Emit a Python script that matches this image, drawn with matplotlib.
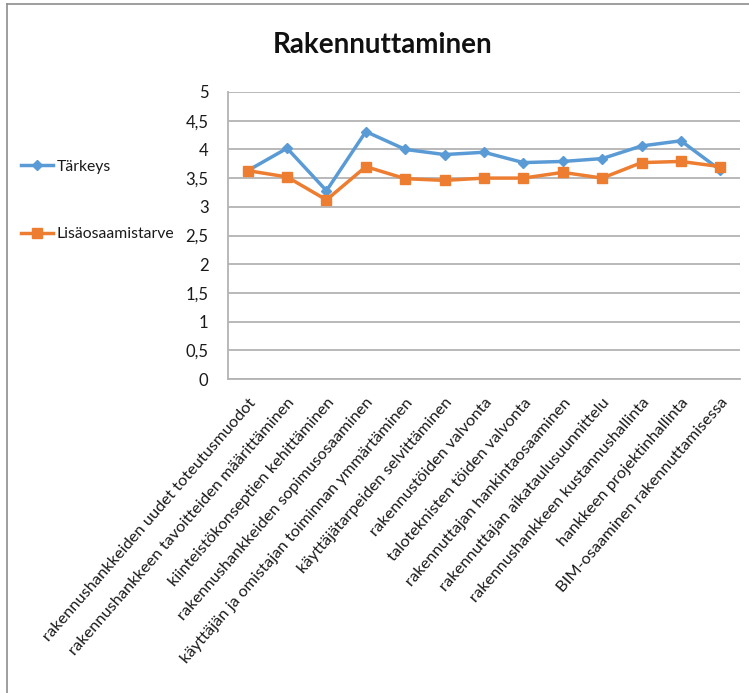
import matplotlib
matplotlib.use("Agg")
import matplotlib.pyplot as plt
from matplotlib.lines import Line2D
from matplotlib.ticker import FuncFormatter

plt.rcParams['font.family'] = ['Lato', 'DejaVu Sans']

categories = [
    "rakennushankkeiden uudet toteutusmuodot",
    "rakennushankkeen tavoitteiden määrittäminen",
    "kiinteistökonseptien kehittäminen",
    "rakennushankkeiden sopimusosaaminen",
    "käyttäjän ja omistajan toiminnan ymmärtäminen",
    "käyttäjätarpeiden selvittäminen",
    "rakennustöiden valvonta",
    "taloteknisten töiden valvonta",
    "rakennuttajan hankintaosaaminen",
    "rakennuttajan aikataulusuunnittelu",
    "rakennushankkeen kustannushallinta",
    "hankkeen projektinhallinta",
    "BIM-osaaminen rakennuttamisessa",
]
tarkeys = [3.63, 4.02, 3.28, 4.31, 4.00, 3.91, 3.95, 3.77, 3.79, 3.84, 4.06, 4.15, 3.64]
lisaosaamistarve = [3.63, 3.52, 3.12, 3.70, 3.49, 3.46, 3.50, 3.50, 3.60, 3.50, 3.77, 3.79, 3.70]
series_names = ["Tärkeys", "Lisäosaamistarve"]
yticks = [0, 0.5, 1, 1.5, 2, 2.5, 3, 3.5, 4, 4.5, 5]

BLUE = "#5B9BD5"
ORANGE = "#ED7D31"
GRID = "#B3B3B3"
TEXT = "#1a1a1a"

W, H = 749, 693
fig = plt.figure(figsize=(W / 100, H / 100), dpi=100)

def fx(px):
    return px / W

def fy(py):
    return 1 - py / H

# chart frame (top and left edges)
fig.add_artist(Line2D([fx(7), fx(7)], [0, fy(4)], transform=fig.transFigure,
                      color="#8E8E8E", lw=1.2))
fig.add_artist(Line2D([fx(7), 1], [fy(4), fy(4)], transform=fig.transFigure,
                      color="#8E8E8E", lw=1.2))

left, right, top, bottom = 228, 740, 92, 379
ax = fig.add_axes([fx(left), fy(bottom), (right - left) / W, (bottom - top) / H])

x = list(range(len(categories)))
style_blue = dict(color=BLUE, lw=2.5, marker="D", markersize=5.5,
                  markerfacecolor=BLUE, markeredgecolor=BLUE)
style_orange = dict(color=ORANGE, lw=2.5, marker="s", markersize=7,
                    markerfacecolor=ORANGE, markeredgecolor=ORANGE)
ax.plot(x, tarkeys, zorder=3, **style_blue)
ax.plot(x, lisaosaamistarve, zorder=4, **style_orange)

ax.set_xlim(-0.5, len(categories) - 0.5)
ax.set_ylim(0, 5)
ax.set_yticks(yticks)
ax.yaxis.set_major_formatter(FuncFormatter(lambda v, p: f"{v:g}".replace(".", ",")))
ax.grid(axis="y", color=GRID, lw=1.3)
ax.set_axisbelow(True)
for s in ["top", "right"]:
    ax.spines[s].set_visible(False)
for s in ["left", "bottom"]:
    ax.spines[s].set_color(GRID)
    ax.spines[s].set_linewidth(1.3)
ax.tick_params(axis="y", length=0, pad=14, labelsize=12, labelcolor=TEXT)
ax.tick_params(axis="x", length=0, pad=12)
ax.set_xticks(x)
ax.set_xticklabels(categories, rotation=49, ha="right", va="top",
                   rotation_mode="anchor", fontsize=11.8, color=TEXT)

fig.text(fx(383), fy(45), "Rakennuttaminen", ha="center", va="center",
         fontsize=20, fontweight="bold", color="#111111")

# legend entries on the left side: short line with a marker in the middle
for name, style, ypx in [(series_names[0], style_blue, 165),
                         (series_names[1], style_orange, 233)]:
    st = dict(style)
    fig.add_artist(Line2D([fx(21), fx(37), fx(53)], [fy(ypx)] * 3,
                          transform=fig.transFigure, lw=st.pop("lw"), **st,
                          markevery=[1]))
    fig.text(fx(57), fy(ypx), name, ha="left", va="center_baseline",
             fontsize=11.3, color=TEXT)

fig.savefig("out.png", dpi=100, facecolor="white")
